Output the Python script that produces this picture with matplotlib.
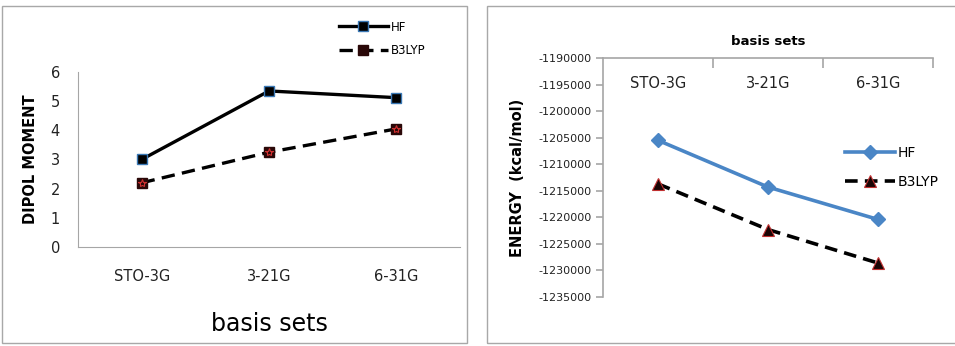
import matplotlib
matplotlib.use("Agg")
import matplotlib.pyplot as plt
from matplotlib.patches import Rectangle

# data
basis = ["STO-3G", "3-21G", "6-31G"]
dipole_hf = [3.0, 5.35, 5.12]
dipole_b3lyp = [2.2, 3.25, 4.05]
energy_hf = [-1205500, -1214300, -1220400]
energy_b3lyp = [-1213700, -1222300, -1228600]
energy_ticks = list(range(-1190000, -1235001, -5000))

plt.rcParams['font.family'] = ['DejaVu Sans']
W, H = 955, 346
fig = plt.figure(figsize=(W / 100, H / 100), dpi=100)

# panel frames
fig.patches.append(Rectangle((2 / W, 1 - 343 / H), 465 / W, 337 / H, transform=fig.transFigure,
                             fill=False, ec='#a8a8a8', lw=1.0))
fig.patches.append(Rectangle((487 / W, 1 - 343 / H), 470 / W, 337 / H, transform=fig.transFigure,
                             fill=False, ec='#a8a8a8', lw=1.0))

grey = '#a6a6a6'
x = list(range(len(basis)))

# ---- left: dipole moment ----
ax1 = fig.add_axes([78 / W, 1 - 247 / H, 382 / W, 175 / H])
ax1.plot(x, dipole_hf, color='black', lw=2.4, marker='s', ms=7.5,
         mfc='black', mec='#3a78b5', mew=1.0, label='HF')
ax1.plot(x, dipole_b3lyp, color='black', lw=2.4, ls=(0, (4, 2.2)), marker='s', ms=7.5,
         mfc='#2a0808', mec='#2a0808', label='B3LYP')
ax1.plot(x, dipole_b3lyp, ls='none', marker='*', ms=6, mfc='none', mec='#d03030', mew=0.8)
ax1.set_xlim(-0.5, 2.5)
ax1.set_ylim(0, 6)
ax1.set_yticks(range(0, 7))
ax1.set_xticks(x)
ax1.set_xticklabels(basis)
for s in ['top', 'right']:
    ax1.spines[s].set_visible(False)
for s in ['left', 'bottom']:
    ax1.spines[s].set_color(grey)
ax1.tick_params(axis='both', length=0, labelsize=10.5, colors='#222222')
ax1.tick_params(axis='x', pad=16)
ax1.tick_params(axis='y', pad=13)
ax1.set_xlabel('basis sets', fontsize=17, labelpad=20)
ax1.set_ylabel('DIPOL MOMENT', fontsize=10.5, fontweight='bold', labelpad=9)
ax1.legend(loc='upper left', bbox_to_anchor=(328 / W, 1 - 10 / H), bbox_transform=fig.transFigure,
           frameon=False, fontsize=8.5, handlelength=4.2, labelspacing=0.9, handletextpad=0.2)

# ---- right: energy ----
ax2 = fig.add_axes([603 / W, 1 - 297 / H, 330 / W, 239 / H])
ax2.plot(x, energy_hf, color='#4a86c6', lw=2.6, marker='D', ms=7,
         mfc='#4a86c6', mec='#4a86c6', label='HF')
ax2.plot(x, energy_b3lyp, color='black', lw=2.6, ls=(0, (3.5, 2)), marker='^', ms=8,
         mfc='#1a0505', mec='#c03030', mew=0.8, label='B3LYP')
ax2.set_xlim(-0.5, 2.5)
ax2.set_ylim(-1235000, -1190000)
ax2.set_yticks(energy_ticks)
ax2.set_yticklabels([str(t) for t in energy_ticks])
ax2.xaxis.tick_top()
ax2.xaxis.set_label_position('top')
ax2.set_xticks(x)
ax2.set_xticklabels(basis)
ax2.set_xticks([0.5, 1.5, 2.5], minor=True)
ax2.tick_params(axis='x', which='major', length=0, pad=-24, labelsize=10.5, colors='#222222')
ax2.tick_params(axis='x', which='minor', direction='in', length=7, color=grey, width=1.2)
ax2.tick_params(axis='y', direction='out', length=5, color=grey, width=1.2,
                labelsize=8, colors='#222222', pad=3)
for s in ['bottom', 'right']:
    ax2.spines[s].set_visible(False)
for s in ['left', 'top']:
    ax2.spines[s].set_color(grey)
    ax2.spines[s].set_linewidth(1.2)
ax2.set_xlabel('basis sets', fontsize=9.5, fontweight='bold', labelpad=6)
ax2.set_ylabel('ENERGY  (kcal/mol)', fontsize=10.5, fontweight='bold', labelpad=10)
ax2.legend(loc='upper left', bbox_to_anchor=(832 / W, 1 - 133 / H), bbox_transform=fig.transFigure,
           frameon=False, fontsize=10, handlelength=3.6, labelspacing=1.1, handletextpad=0.2)

fig.savefig('out.png', dpi=100)
